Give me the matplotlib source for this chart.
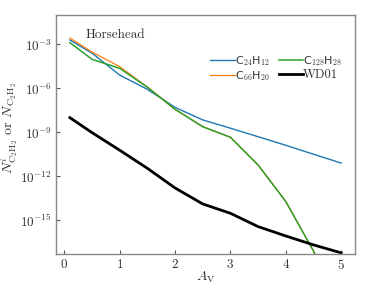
import matplotlib
matplotlib.use("Agg")
import matplotlib.pyplot as plt
import numpy as np

plt.rcParams['mathtext.fontset'] = 'cm'
plt.rcParams['font.family'] = ['cmr10', 'DejaVu Serif']
plt.rcParams['axes.formatter.use_mathtext'] = True
plt.rcParams['axes.unicode_minus'] = False

av = [0.1, 0.5, 1.0, 1.5, 2.0, 2.5, 3.0, 3.5, 4.0, 4.5, 5.0]
c24h12 = [2.0e-3, 2.5e-4, 8e-6, 8.5e-7, 5e-8, 7e-9, 1.9e-9, 5.0e-10, 1.3e-10, 3.2e-11, 8e-12]
c66h20 = [2.7e-3, 3.0e-4, 3.0e-5, 1.2e-6, 3.7e-8, 2.4e-9, 4.6e-10, 5.9e-12, 1.9e-14, 8e-18, 1e-21]
c128h28 = [1.3e-3, 9.5e-5, 2.3e-5, 1.2e-6, 3.7e-8, 2.4e-9, 4.6e-10, 5.9e-12, 1.9e-14, 8e-18, 1e-21]
wd01 = [1.0e-8, 9.5e-10, 6e-11, 3.5e-12, 1.6e-13, 1.3e-14, 3e-15, 3.7e-16, 8.5e-17, 2.1e-17, 6e-18]

fig = plt.figure(figsize=(3.74, 2.99), dpi=100)
ax = fig.add_axes([56/374, 1-254/299, (355-56)/374, (254-15)/299])

ax.plot(av, c24h12, color='#1f77b4', lw=1.0, label='C$_{24}$H$_{12}$')
ax.plot(av, c66h20, color='#ff7f0e', lw=0.9, label='C$_{66}$H$_{20}$')
ax.plot(av, c128h28, color='#2ca02c', lw=1.1, label='C$_{128}$H$_{28}$')
ax.plot(av, wd01, color='black', lw=2.0, label='WD01')

ax.set_yscale('log')
ax.set_xlim(-0.15, 5.25)
ax.set_ylim(10**-17.3, 1e-1)
ax.set_yticks([1e-3, 1e-6, 1e-9, 1e-12, 1e-15])
ax.minorticks_off()
ax.set_xticks([0, 1, 2, 3, 4, 5])
ax.tick_params(direction='in', length=3, width=0.8, color='#555555', labelsize=9.5,
               labelcolor='#333333', pad=3)
for s in ax.spines.values():
    s.set_color('#888888')
    s.set_linewidth(1.0)

ax.set_xlabel(r'$A_{\mathrm{V}}$', fontsize=10, color='#333333')
ax.xaxis.set_label_coords(0.5, -0.065)
ax.set_ylabel(r'$N^{i}_{\mathrm{C_2H_2}}$ or $N_{\mathrm{C_2H_2}}$', fontsize=10, color='#333333')
ax.yaxis.set_label_coords(-0.12, 0.527)
ax.text(0.10, 0.905, 'Horsehead', transform=ax.transAxes, fontsize=9.5, color='#333333')

leg = ax.legend(ncol=2, loc='upper right', bbox_to_anchor=(0.99, 0.88), frameon=False,
                handlelength=2.2, handletextpad=0.0, columnspacing=0.8,
                labelspacing=0.1, prop={'family': ['DejaVu Sans'], 'size': 8})
for t in leg.get_texts():
    t.set_color('#333333')
leg.get_texts()[3].set_fontfamily(['cmr10'])
leg.get_texts()[3].set_fontsize(9)

fig.savefig('out.png', dpi=100)
